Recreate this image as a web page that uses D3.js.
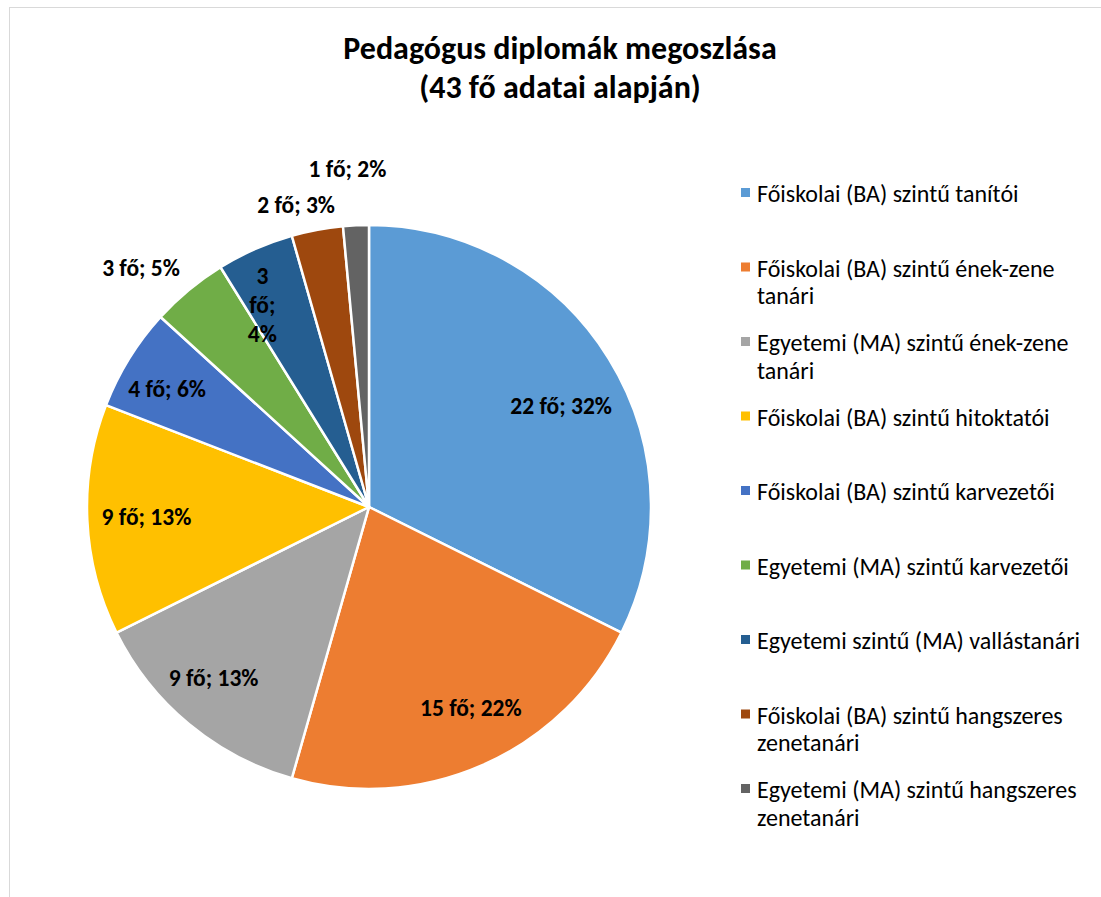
<!DOCTYPE html>
<html>
<head>
<meta charset="utf-8">
<script src="https://cdn.jsdelivr.net/npm/d3@7"></script>
<style>
  html, body { margin: 0; padding: 0; background: #fff; }
  svg { display: block; font-family: Carlito, Calibri, Lato, sans-serif; }
</style>
</head>
<body>
<div class="chart"></div>
<script>
// chart data
const categories = [
    "Főiskolai (BA) szintű tanítói",
    "Főiskolai (BA) szintű ének-zene tanári",
    "Egyetemi (MA) szintű ének-zene tanári",
    "Főiskolai (BA) szintű hitoktatói",
    "Főiskolai (BA) szintű karvezetői",
    "Egyetemi (MA) szintű karvezetői",
    "Egyetemi szintű (MA) vallástanári",
    "Főiskolai (BA) szintű hangszeres zenetanári",
    "Egyetemi (MA) szintű hangszeres zenetanári"
]
const counts = [22, 15, 9, 9, 4, 3, 3, 2, 1]
const percents = [32, 22, 13, 13, 6, 5, 4, 3, 2]
const titleLines = ["Pedagógus diplomák megoszlása", "(43 fő adatai alapján)"]
const colors = ["#5B9BD5", "#ED7D31", "#A5A5A5", "#FFC000", "#4472C4",
                "#70AD47", "#255E91", "#9E480E", "#636363"]

const width = 1101, height = 897
const cx = 369, cy = 507, radius = 282

// label placement (fraction of radius, angle nudge in degrees)
const labelR = [0.77, 0.80, 0.82, 0.79, 0.83, 1.17, 0.81, 1.10, 1.20]
const labelNudge = [4, -3, 2.5, 0, -1.4, -4, -4, -3, -1]
const wrapped = new Set([6])

const svg = d3.select(".chart").append("svg")
    .attr("width", width)
    .attr("height", height)

// outer frame
svg.append("rect")
    .attr("x", 9.5).attr("y", 7.5)
    .attr("width", width).attr("height", height)
    .attr("fill", "none")
    .attr("stroke", "#d9d9d9")

const title = svg.append("text")
    .attr("x", 560)
    .attr("text-anchor", "middle")
    .attr("font-weight", "bold")
    .attr("font-size", 32)
    .attr("fill", "#000")
title.selectAll("tspan")
    .data(titleLines)
    .enter()
    .append("tspan")
        .attr("x", 560)
        .attr("y", (_, i) => 59 + i * 39)
        .text(d => d)

const color = d3.scaleOrdinal().domain(categories).range(colors)

const pie = d3.pie().sort(null).value(d => d.count)
const data = categories.map((c, i) => ({cat: c, count: counts[i], pct: percents[i], i}))
const arcs = pie(data)

const arc = d3.arc().innerRadius(0).outerRadius(radius)

const g = svg.append("g").attr("transform", `translate(${cx},${cy})`)

g.selectAll("path")
    .data(arcs)
    .enter()
    .append("path")
        .attr("d", arc)
        .attr("fill", d => color(d.data.cat))
        .attr("stroke", "#fff")
        .attr("stroke-width", 2.5)
        .attr("stroke-linejoin", "round")

const labels = g.selectAll(".lbl")
    .data(arcs)
    .enter()
    .append("text")
        .attr("class", "lbl")
        .attr("font-weight", "bold")
        .attr("font-size", 23.5)
        .attr("text-anchor", "middle")
        .attr("dominant-baseline", "central")
        .attr("fill", "#000")
        .attr("transform", d => {
            const a = (d.startAngle + d.endAngle) / 2 + labelNudge[d.data.i] * Math.PI / 180
            const r = labelR[d.data.i] * radius
            return `translate(${r * Math.sin(a)},${-r * Math.cos(a)})`
        })

labels.each(function(d) {
    const t = d3.select(this)
    const s = `${d.data.count} fő; ${d.data.pct}%`
    if (wrapped.has(d.data.i)) {
        const parts = s.split(" ")
        t.selectAll("tspan")
            .data(parts)
            .enter()
            .append("tspan")
                .attr("x", 0)
                .attr("y", (_, k) => (k - 1) * 29)
                .text(p => p)
    } else {
        t.text(s)
    }
})

// legend
const legend = svg.append("g")
    .attr("class", "legend")
    .attr("transform", "translate(741,0)")

const maxW = 330
const item = legend.selectAll("g")
    .data(categories)
    .enter()
    .append("g")
        .attr("transform", (_, i) => `translate(0,${193 + i * 74.5})`)

item.append("rect")
    .attr("x", 0)
    .attr("y", -5)
    .attr("width", 9)
    .attr("height", 9)
    .attr("fill", d => color(d))

item.append("text")
    .attr("x", 16)
    .attr("y", 0)
    .attr("font-size", 24)
    .attr("fill", "#000")
    .attr("dominant-baseline", "central")
    .each(function(d) {
        const t = d3.select(this)
        const words = d.split(" ")
        let line = [], lineNo = 0
        let ts = t.append("tspan").attr("x", 16).attr("y", 0)
        words.forEach(w => {
            line.push(w)
            ts.text(line.join(" "))
            if (ts.node().getComputedTextLength() > maxW && line.length > 1) {
                line.pop()
                ts.text(line.join(" "))
                line = [w]
                lineNo++
                ts = t.append("tspan").attr("x", 16).attr("y", lineNo * 27.5).text(w)
            }
        })
    })
</script>
</body>
</html>
